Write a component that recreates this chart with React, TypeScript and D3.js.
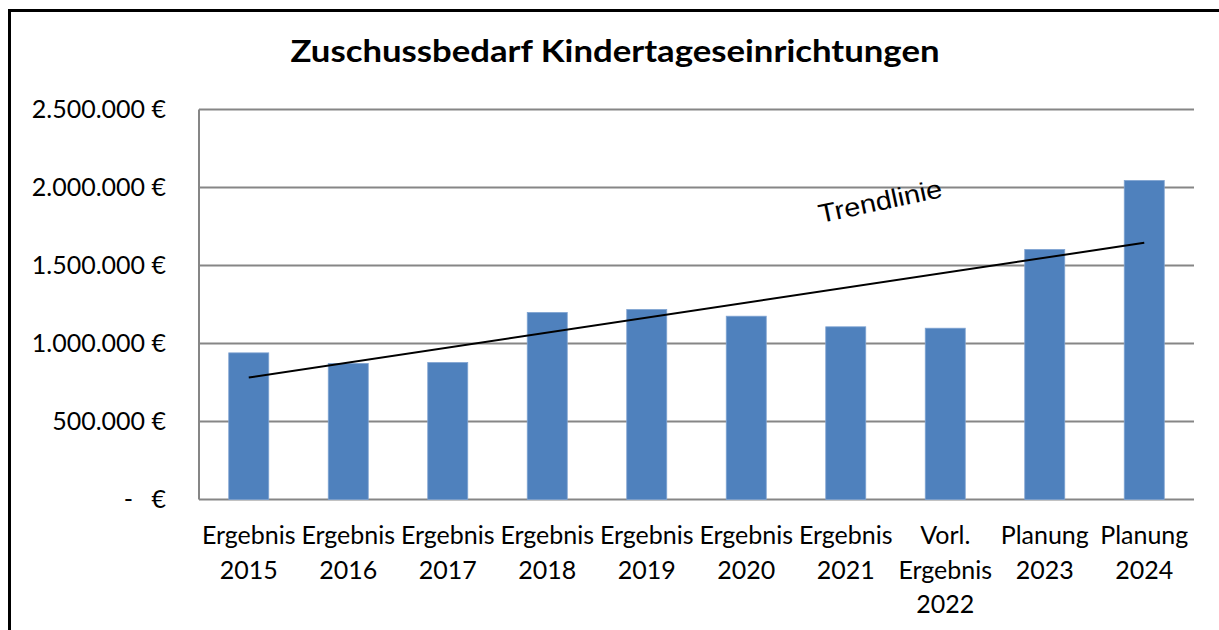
import React from "react";
import * as d3 from "d3";

const title = "Zuschussbedarf Kindertageseinrichtungen";
const categories: string[][] = [
  ["Ergebnis", "2015"],
  ["Ergebnis", "2016"],
  ["Ergebnis", "2017"],
  ["Ergebnis", "2018"],
  ["Ergebnis", "2019"],
  ["Ergebnis", "2020"],
  ["Ergebnis", "2021"],
  ["Vorl.", "Ergebnis", "2022"],
  ["Planung", "2023"],
  ["Planung", "2024"],
];
const values: number[] = [940000, 872000, 878000, 1199000, 1218000, 1175000, 1107000, 1098000, 1603000, 2045000];
const yTicks: number[] = [0, 500000, 1000000, 1500000, 2000000, 2500000];
const trendLabel = "Trendlinie";

const W = 1219;
const H = 630;
const plot = { left: 199, right: 1194, top: 109.5, bottom: 499.5 };

const de = d3.formatLocale({ decimal: ",", thousands: ".", grouping: [3], currency: ["", " €"] });
const fmt = de.format(",.0f");

export default function App() {
  const x = d3
    .scaleBand<number>()
    .domain(d3.range(values.length))
    .range([plot.left, plot.right])
    .paddingInner(0.598)
    .paddingOuter(0.299);
  const y = d3.scaleLinear().domain([0, 2500000]).range([plot.bottom, plot.top]);
  const cx = (i: number) => (x(i) as number) + x.bandwidth() / 2;

  // linear regression trend line (least squares over category index)
  const n = values.length;
  const xs = d3.range(1, n + 1);
  const mx = d3.mean(xs) as number;
  const my = d3.mean(values) as number;
  const sxy = d3.sum(xs.map((xi, i) => (xi - mx) * (values[i] - my)));
  const sxx = d3.sum(xs.map((xi) => (xi - mx) * (xi - mx)));
  const slope = sxy / sxx;
  const intercept = my - slope * mx;
  const trendPts: [number, number][] = [0, n - 1].map((i) => [cx(i), y(intercept + slope * (i + 1))]);
  const line = d3.line();

  const font = "Lato, 'Open Sans', sans-serif";

  return (
    <svg width={W} height={H} style={{ position: "absolute", left: 0, top: 0, background: "#fff" }}>
      <rect x={0} y={0} width={W} height={H} fill="#fff" />
      {/* outer chart frame */}
      <rect x={9.5} y={10.5} width={W + 20} height={H + 20} fill="none" stroke="#000" strokeWidth={3} />
      <text
        x={615}
        y={62}
        textAnchor="middle"
        fontFamily={font}
        fontWeight={700}
        fontSize={30}
        textLength={649}
        lengthAdjust="spacingAndGlyphs"
        fill="#000"
      >
        {title}
      </text>
      {/* gridlines */}
      {yTicks.map((t) => (
        <line key={t} x1={plot.left} x2={plot.right} y1={y(t)} y2={y(t)} stroke="#868686" strokeWidth={2} />
      ))}
      <line x1={plot.left} x2={plot.left} y1={plot.top} y2={plot.bottom} stroke="#868686" strokeWidth={2} />
      {/* y labels */}
      {yTicks.map((t) =>
        t === 0 ? (
          <g key={t}>
            <text x={133} y={y(t) + 8.5} textAnchor="end" fontFamily={font} fontSize={25} fill="#000">-</text>
            <text x={166} y={y(t) + 8.5} textAnchor="end" fontFamily={font} fontSize={25} fill="#000">€</text>
          </g>
        ) : (
          <text key={t} x={166} y={y(t) + 8.5} textAnchor="end" fontFamily={font} fontSize={25} fill="#000">
            {fmt(t) + " €"}
          </text>
        )
      )}
      {/* bars */}
      {values.map((v, i) => (
        <rect
          key={i}
          x={x(i) as number}
          y={y(v)}
          width={x.bandwidth()}
          height={y(0) - y(v)}
          fill="#4F81BD"
          stroke="#7FA3D2"
          strokeWidth={0.8}
        />
      ))}
      {/* x labels */}
      {categories.map((lines, i) => (
        <text key={i} x={cx(i)} y={544} textAnchor="middle" fontFamily={font} fontSize={25} fill="#000">
          {lines.map((l, j) => (
            <tspan key={j} x={cx(i)} dy={j === 0 ? 0 : 34.5}>
              {l}
            </tspan>
          ))}
        </text>
      ))}
      {/* trend line */}
      <path d={line(trendPts) as string} stroke="#000" strokeWidth={2} fill="none" />
      <text
        x={882}
        y={210}
        transform="rotate(-12 882 210)"
        textAnchor="middle"
        fontFamily="'Liberation Sans', Arial, sans-serif"
        fontSize={26}
        textLength={126}
        lengthAdjust="spacingAndGlyphs"
        fill="#000"
      >
        {trendLabel}
      </text>
    </svg>
  );
}
